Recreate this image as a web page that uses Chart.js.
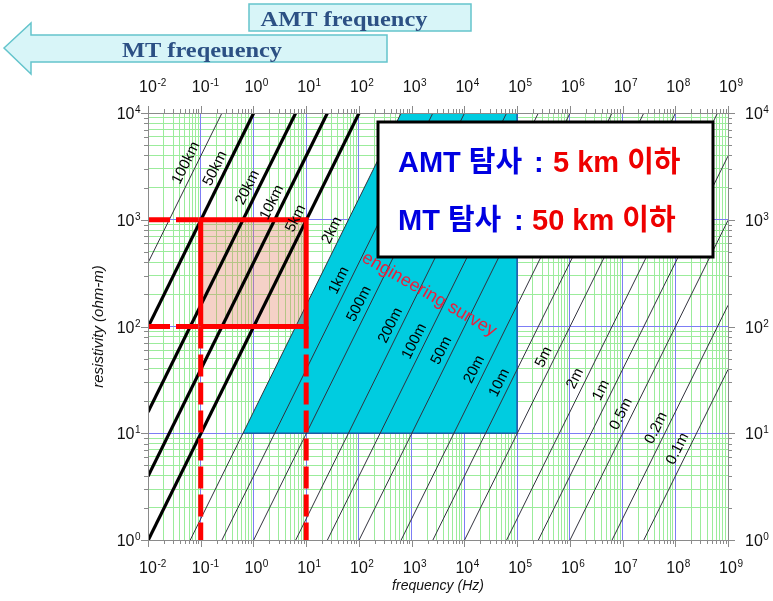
<!DOCTYPE html>
<html>
<head>
<meta charset="utf-8">
<script src="https://cdn.jsdelivr.net/npm/chart.js@4.4.1/dist/chart.umd.min.js"></script>
<style>
  html, body { margin: 0; padding: 0; background: #fff; }
  #wrap { width: 773px; height: 601px; }
</style>
</head>
<body>
<div id="wrap"><canvas id="skin-depth-chart" width="773" height="601"></canvas></div>
<script>
// axis decades (tick labels are 10^exp)
const freqExponents = [-2, -1, 0, 1, 2, 3, 4, 5, 6, 7, 8, 9];
const rhoExponents = [0, 1, 2, 3, 4];

// skin depth lines: where each line enters and leaves the plot (freq Hz, resistivity ohm-m)
const depthNames = ['100km', '50km', '20km', '10km', '5km', '2km', '1km', '500m', '200m', '100m',
  '50m', '20m', '10m', '5m', '2m', '1m', '0.5m', '0.2m', '0.1m'];
const depthStartFreq = [0.01, 0.01, 0.01, 0.01, 0.01, 0.0633, 0.253, 1.01, 6.33, 25.3,
  101, 633, 2530, 10100, 63300, 253000, 1010000, 6330000, 25300000];
const depthStartRho = [395, 98.8, 15.8, 3.95, 0.988, 1, 1, 1, 1, 1,
  1, 1, 1, 1, 1, 1, 1, 1, 1];
const depthEndFreq = [0.253, 1.01, 6.33, 25.3, 101, 633, 2530, 10100, 63300, 253000,
  1010000, 6330000, 25300000, 101000000, 633000000, 1e9, 1e9, 1e9, 1e9];
const depthEndRho = [1e4, 1e4, 1e4, 1e4, 1e4, 1e4, 1e4, 1e4, 1e4, 1e4,
  1e4, 1e4, 1e4, 1e4, 1e4, 3950, 988, 158, 39.5];
// resistivity where each depth label sits on its line
const labelRho = [3090, 2750, 1820, 1318, 933, 724, 245, 148, 93, 66,
  54, 36, 27, 47, 29.5, 23, 13.8, 10.2, 6.5];
const thickDepths = ['50km', '20km', '10km', '5km'];

// engineering survey region (cyan)
const surveyFreq = [0.6325, 1e5, 1e5, 632.5, 0.6325];
const surveyRho = [10, 10, 1e4, 1e4, 10];
const surveyLabelAt = [2150, 200];

// MT target box
const boxFreq = [0.1, 10];
const boxRho = [100, 1000];

const pts = (fs, rs) => fs.map((f, i) => ({ x: f, y: rs[i] }));
const isDecade = v => Math.abs(Math.log10(v) - Math.round(Math.log10(v))) < 1e-9;

function logTicks(exps, withMinor) {
  const out = [];
  exps.forEach((e, i) => {
    const base = Math.pow(10, e);
    out.push(base);
    if (withMinor && i < exps.length - 1) {
      for (let m = 2; m <= 9; m++) out.push(m * base);
    }
  });
  return out;
}
const xMinor = logTicks(freqExponents, true);
const yMinor = logTicks(rhoExponents, true);
const xMajor = logTicks(freqExponents, false);
const yMajor = logTicks(rhoExponents, false);

const fMin = Math.pow(10, freqExponents[0]), fMax = Math.pow(10, freqExponents[freqExponents.length - 1]);
const rMin = Math.pow(10, rhoExponents[0]), rMax = Math.pow(10, rhoExponents[rhoExponents.length - 1]);

const minorGrid = ctx => isDecade(ctx.tick.value) ? 'rgba(0,0,0,0)' : 'rgb(155,236,155)';
const majorGrid = (min, max) => ctx => {
  const v = ctx.tick.value;
  if (Math.abs(v - min) / min < 1e-9 || Math.abs(v - max) / max < 1e-9) return 'rgba(0,0,0,0)';
  return 'rgb(125,125,245)';
};

const datasets = [];
datasets.push({
  data: pts(surveyFreq, surveyRho), showLine: true, fill: 'shape',
  backgroundColor: 'rgb(0,204,224)', borderWidth: 0, pointRadius: 0, order: 20
});
datasets.push({
  data: pts(surveyFreq.slice(0, 3), surveyRho.slice(0, 3)), showLine: true,
  borderColor: 'rgb(30,90,165)', borderWidth: 1.5, pointRadius: 0, order: 19
});
const boxF = [boxFreq[0], boxFreq[1], boxFreq[1], boxFreq[0], boxFreq[0]];
const boxR = [boxRho[0], boxRho[0], boxRho[1], boxRho[1], boxRho[0]];
datasets.push({
  data: pts(boxF, boxR), showLine: true, fill: 'shape',
  backgroundColor: 'rgba(228,128,100,0.36)', borderWidth: 0, pointRadius: 0, order: 18
});
depthNames.forEach((name, i) => {
  const thick = thickDepths.includes(name);
  datasets.push({
    data: pts([depthStartFreq[i], depthEndFreq[i]], [depthStartRho[i], depthEndRho[i]]),
    showLine: true, pointRadius: 0,
    borderColor: thick ? '#000' : 'rgb(50,50,62)',
    borderWidth: thick ? 3.2 : 1,
    order: thick ? 12 : 15
  });
});
datasets.push({
  data: pts(boxF, boxR), showLine: true, borderColor: 'rgb(255,0,0)', borderWidth: 5,
  pointRadius: 0, order: 5
});
const dashed = [
  [[fMin, boxFreq[0]], [boxRho[1], boxRho[1]]],
  [[fMin, boxFreq[0]], [boxRho[0], boxRho[0]]],
  [[boxFreq[0], boxFreq[0]], [boxRho[0], rMin]],
  [[boxFreq[1], boxFreq[1]], [boxRho[0], rMin]]
];
dashed.forEach(d => {
  datasets.push({
    data: pts(d[0], d[1]), showLine: true, borderColor: 'rgb(255,0,0)', borderWidth: 5,
    borderDash: [22, 6], pointRadius: 0, order: 5
  });
});

const SANS = '"Liberation Sans", Arial, sans-serif';

function drawPow(ctx, exp, x, baseY, align) {
  ctx.font = '16px ' + SANS;
  const bw = ctx.measureText('10').width;
  ctx.font = '10px ' + SANS;
  const ew = ctx.measureText(String(exp)).width;
  let x0 = x;
  if (align === 'center') x0 = x - bw / 2;
  if (align === 'right') x0 = x - bw - ew;
  ctx.textAlign = 'left';
  ctx.textBaseline = 'alphabetic';
  ctx.font = '16px ' + SANS;
  ctx.fillText('10', x0, baseY);
  ctx.font = '10px ' + SANS;
  ctx.fillText(String(exp), x0 + bw + 0.5, baseY - 6);
}

const decor = {
  id: 'decor',
  afterDraw(chart) {
    const { ctx, chartArea: a } = chart;
    const x = chart.scales.x, y = chart.scales.y;
    ctx.save();

    // frame and ticks (outward)
    ctx.strokeStyle = '#8a8a8a';
    ctx.lineWidth = 1;
    ctx.strokeRect(Math.round(a.left) + 0.5, Math.round(a.top) + 0.5,
      Math.round(a.right - a.left), Math.round(a.bottom - a.top));
    ctx.beginPath();
    xMinor.forEach(v => {
      const px = Math.round(x.getPixelForValue(v)) + 0.5;
      const len = isDecade(v) ? 7 : 4;
      ctx.moveTo(px, a.bottom); ctx.lineTo(px, a.bottom + len);
      ctx.moveTo(px, a.top); ctx.lineTo(px, a.top - len);
    });
    yMinor.forEach(v => {
      const py = Math.round(y.getPixelForValue(v)) + 0.5;
      const len = isDecade(v) ? 7 : 4;
      ctx.moveTo(a.left, py); ctx.lineTo(a.left - len, py);
      ctx.moveTo(a.right, py); ctx.lineTo(a.right + len, py);
    });
    ctx.stroke();

    // tick labels
    ctx.fillStyle = '#111';
    freqExponents.forEach(e => {
      const px = x.getPixelForValue(Math.pow(10, e));
      drawPow(ctx, e, px, 92, 'center');
      drawPow(ctx, e, px, 573, 'center');
    });
    rhoExponents.forEach(e => {
      const py = y.getPixelForValue(Math.pow(10, e));
      drawPow(ctx, e, 140, py + 6, 'right');
      drawPow(ctx, e, 745, py + 6, 'left');
    });

    // axis titles
    ctx.textAlign = 'center';
    ctx.textBaseline = 'middle';
    ctx.font = 'italic 14px ' + SANS;
    ctx.fillText('frequency (Hz)', (a.left + a.right) / 2, 586);
    ctx.save();
    ctx.translate(99, (a.top + a.bottom) / 2);
    ctx.rotate(-Math.PI / 2);
    ctx.font = 'italic 15px ' + SANS;
    ctx.fillText('resistivity (ohm-m)', 0, 0);
    ctx.restore();

    // depth labels along the lines
    ctx.font = '15px ' + SANS;
    ctx.fillStyle = '#000';
    depthNames.forEach((name, i) => {
      const l0 = Math.log10(depthStartRho[i]), l1 = Math.log10(depthEndRho[i]);
      const t = (Math.log10(labelRho[i]) - l0) / (l1 - l0);
      const lf = Math.log10(depthStartFreq[i]) + t * (Math.log10(depthEndFreq[i]) - Math.log10(depthStartFreq[i]));
      const px = x.getPixelForValue(Math.pow(10, lf));
      const py = y.getPixelForValue(labelRho[i]);
      const ang = Math.atan2(
        y.getPixelForValue(depthEndRho[i]) - y.getPixelForValue(depthStartRho[i]),
        x.getPixelForValue(depthEndFreq[i]) - x.getPixelForValue(depthStartFreq[i]));
      ctx.save();
      ctx.translate(px, py);
      ctx.rotate(ang);
      ctx.fillText(name, 0, -10);
      ctx.restore();
    });

    // engineering survey label
    ctx.save();
    ctx.translate(x.getPixelForValue(surveyLabelAt[0]), y.getPixelForValue(surveyLabelAt[1]));
    ctx.rotate(30 * Math.PI / 180);
    ctx.font = '18px ' + SANS;
    ctx.fillStyle = 'rgb(232,32,60)';
    ctx.fillText('engineering survey', 0, 0);
    ctx.restore();

    // note box
    ctx.fillStyle = '#fff';
    ctx.fillRect(378, 122, 335, 135);
    ctx.strokeStyle = '#000';
    ctx.lineWidth = 3;
    ctx.strokeRect(378, 122, 335, 135);
    ctx.font = 'bold 29px "Liberation Sans", "Noto Sans CJK KR", sans-serif';
    ctx.textAlign = 'left';
    ctx.textBaseline = 'alphabetic';
    ctx.fillStyle = 'rgb(0,0,225)';
    ctx.fillText('AMT 탐사', 398, 172);
    ctx.fillText(':', 534, 172);
    ctx.fillText('MT 탐사', 398, 230);
    ctx.fillText(':', 514, 230);
    ctx.fillStyle = 'rgb(238,0,0)';
    ctx.fillText('5 km 이하', 553, 172);
    ctx.fillText('50 km 이하', 532, 230);

    // frequency banners
    ctx.fillStyle = 'rgb(216,245,248)';
    ctx.strokeStyle = 'rgb(100,196,204)';
    ctx.lineWidth = 1.5;
    ctx.fillRect(249, 4, 222, 27);
    ctx.strokeRect(249, 4, 222, 27);
    ctx.beginPath();
    ctx.moveTo(4, 48); ctx.lineTo(31, 23); ctx.lineTo(31, 35); ctx.lineTo(387, 35);
    ctx.lineTo(387, 62); ctx.lineTo(31, 62); ctx.lineTo(31, 74); ctx.closePath();
    ctx.fill();
    ctx.stroke();
    ctx.fillStyle = 'rgb(44,80,132)';
    ctx.font = 'bold 20px "Liberation Serif", "Times New Roman", serif';
    ctx.textAlign = 'center';
    ctx.save();
    ctx.translate(344, 26);
    ctx.scale(1.22, 1);
    ctx.fillText('AMT frequency', 0, 0);
    ctx.restore();
    ctx.save();
    ctx.translate(202, 57);
    ctx.scale(1.22, 1);
    ctx.fillText('MT freqeuency', 0, 0);
    ctx.restore();

    ctx.restore();
  }
};

const skinDepthChart = new Chart(document.getElementById('skin-depth-chart'), {
  type: 'scatter',
  data: { datasets: datasets },
  options: {
    responsive: false,
    animation: false,
    events: [],
    layout: { padding: { left: 148, right: 45, top: 113, bottom: 61 } },
    elements: { line: { tension: 0 } },
    plugins: { legend: { display: false }, tooltip: { enabled: false } },
    scales: {
      x: {
        type: 'logarithmic', axis: 'x', position: 'bottom', min: fMin, max: fMax,
        afterBuildTicks: s => { s.ticks = xMinor.map(v => ({ value: v })); },
        ticks: { display: false, autoSkip: false },
        grid: { color: minorGrid, drawTicks: false, lineWidth: 1 },
        border: { display: false }
      },
      y: {
        type: 'logarithmic', axis: 'y', position: 'left', min: rMin, max: rMax,
        afterBuildTicks: s => { s.ticks = yMinor.map(v => ({ value: v })); },
        ticks: { display: false, autoSkip: false },
        grid: { color: minorGrid, drawTicks: false, lineWidth: 1 },
        border: { display: false }
      },
      x2: {
        type: 'logarithmic', axis: 'x', position: 'top', min: fMin, max: fMax, z: 1,
        afterBuildTicks: s => { s.ticks = xMajor.map(v => ({ value: v })); },
        ticks: { display: false, autoSkip: false },
        grid: { color: majorGrid(fMin, fMax), drawTicks: false, lineWidth: 1 },
        border: { display: false }
      },
      y2: {
        type: 'logarithmic', axis: 'y', position: 'right', min: rMin, max: rMax, z: 1,
        afterBuildTicks: s => { s.ticks = yMajor.map(v => ({ value: v })); },
        ticks: { display: false, autoSkip: false },
        grid: { color: majorGrid(rMin, rMax), drawTicks: false, lineWidth: 1 },
        border: { display: false }
      }
    }
  },
  plugins: [decor]
});
</script>
</body>
</html>
